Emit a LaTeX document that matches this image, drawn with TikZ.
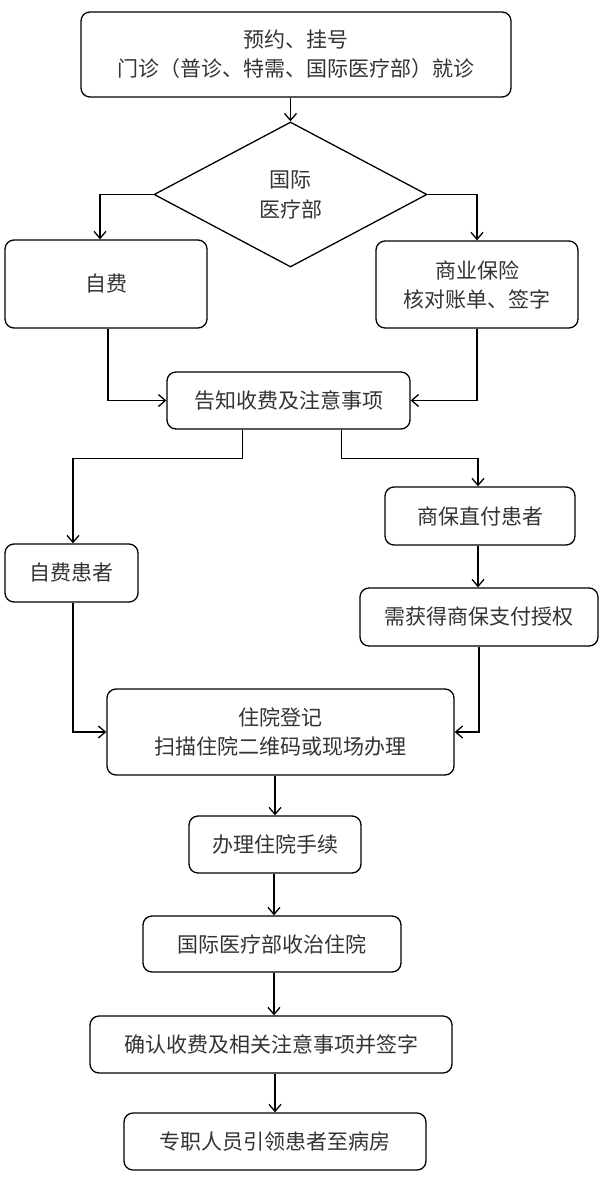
\documentclass[tikz,border=0pt]{standalone}
\usepackage{fontspec}
\setmainfont{Noto Sans CJK SC}
\usetikzlibrary{shapes.geometric,arrows.meta}

\tikzset{
  box/.style={draw,line width=1.3pt,rounded corners=9pt,align=center,inner sep=0pt,
    font=\fontsize{21}{29}\selectfont,text=black!80},
  decide/.style={draw,line width=1.3pt,diamond,aspect=1.88,align=center,inner sep=0pt,
    font=\fontsize{21}{30}\selectfont,text=black!80},
  arr/.style={line width=1.3pt,-{Straight Barb[length=7pt,width=12pt,line width=1.3pt]}}
}

\begin{document}
\begin{tikzpicture}[x=1pt,y=1pt,yscale=-1,xscale=1]
  \useasboundingbox (0,0) rectangle (599,1190);

  % Boxes
  \node [box,minimum width=430,minimum height=85] (top) at (296,54.5) {预约、挂号\\门诊（普诊、特需、国际医疗部）就诊};
  \node [decide,minimum width=273,minimum height=145] (dia) at (290.5,194.5) {国际\\医疗部};
  \node [box,minimum width=202,minimum height=88] (zf) at (106,284) {自费};
  \node [box,minimum width=202,minimum height=87] (sy) at (477,284.5) {商业保险\\核对账单、签字};
  \node [box,minimum width=243,minimum height=57] (gz) at (288.5,400.5) {告知收费及注意事项};
  \node [box,minimum width=133,minimum height=58] (zfhz) at (71.5,573) {自费患者};
  \node [box,minimum width=190,minimum height=58] (sbzf) at (480,516) {商保直付患者};
  \node [box,minimum width=238,minimum height=58] (xhd) at (479,617) {需获得商保支付授权};
  \node [box,minimum width=347,minimum height=86] (zydj) at (280.5,732) {住院登记\\扫描住院二维码或现场办理};
  \node [box,minimum width=172,minimum height=57] (blzy) at (275,844.5) {办理住院手续};
  \node [box,minimum width=258,minimum height=56] (gjsz) at (272,944) {国际医疗部收治住院};
  \node [box,minimum width=362,minimum height=57] (qrsf) at (271,1044.5) {确认收费及相关注意事项并签字};
  \node [box,minimum width=302,minimum height=57] (zzry) at (275,1141.5) {专职人员引领患者至病房};

  % Connectors
  \draw [arr] (top.south -| dia.north) -- (dia.north);
  \draw [arr] (dia.west) -| ([xshift=-6pt]zf.north);
  \draw [arr] (dia.east) -| (sy.north);
  \draw [arr] ([xshift=2pt]zf.south) |- (gz.west);
  \draw [arr] (sy.south) |- (gz.east);
  \draw [arr] ([xshift=-46pt]gz.south) -- ++(0,29) -| ([xshift=1.5pt]zfhz.north);
  \draw [arr] ([xshift=53pt]gz.south) -- ++(0,29) -| ([xshift=-2pt]sbzf.north);
  \draw [arr] ([xshift=-2pt]sbzf.south) -- ([xshift=-1pt]xhd.north);
  \draw [arr] ([xshift=1.5pt]zfhz.south) |- (zydj.west);
  \draw [arr] (xhd.south) |- (zydj.east);
  \draw [arr] (zydj.south -| blzy.north) -- (blzy.north);
  \draw [arr] ([xshift=-1pt]blzy.south) -- ([xshift=-1pt]blzy.south |- gjsz.north);
  \draw [arr] ([xshift=2pt]gjsz.south) -- ([xshift=2pt]gjsz.south |- qrsf.north);
  \draw [arr] ([xshift=4pt]qrsf.south) -- ([xshift=4pt]qrsf.south |- zzry.north);

\end{tikzpicture}
\end{document}
